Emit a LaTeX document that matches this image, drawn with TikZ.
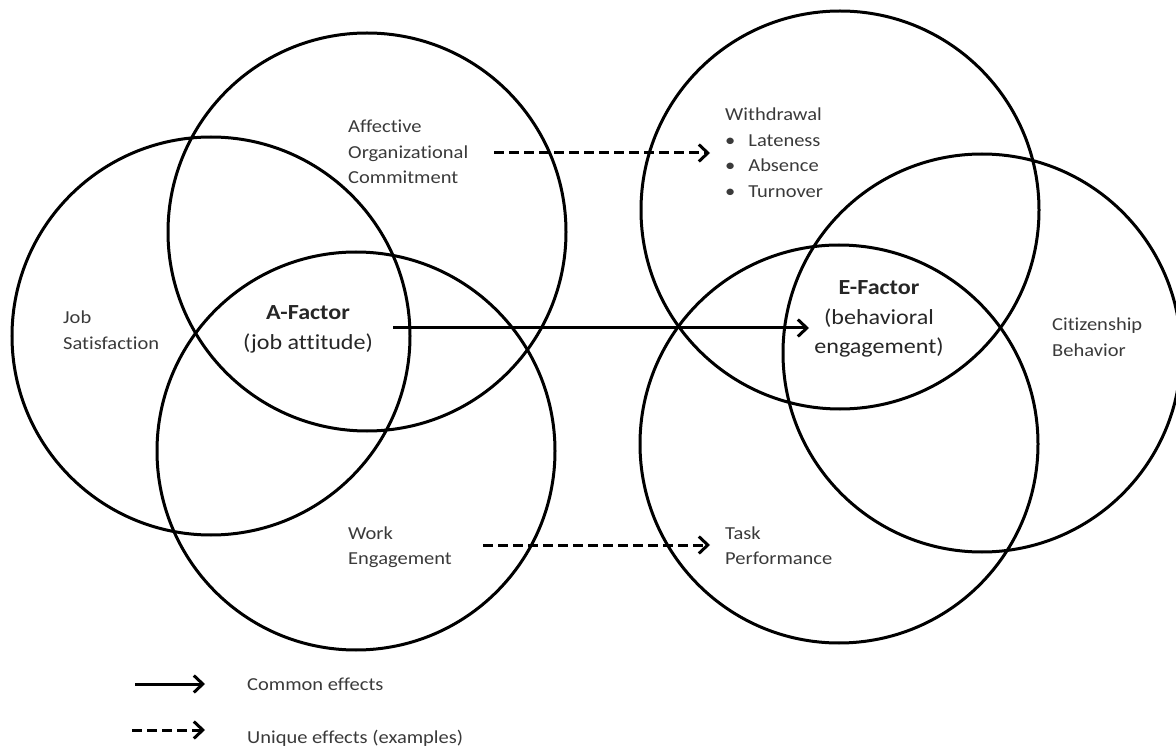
\documentclass[tikz,border=0pt]{standalone}
\usepackage{fontspec}
\usetikzlibrary{arrows.meta}
\newfontfamily\labfont[FakeStretch=1.12,Ligatures=NoCommon]{Carlito}
\definecolor{txtgray}{HTML}{3A3A3A}
\definecolor{bigtxt}{HTML}{262626}
\begin{document}
\begin{tikzpicture}[x=1pt,y=-1pt,
  ring/.style={circle, draw=black, line width=3pt, minimum size=398pt, inner sep=0pt},
  lab/.style={font=\labfont\fontsize{18.3}{25.5}\selectfont, text=txtgray, inner sep=0pt, anchor=base west},
  biglab/.style={font=\labfont\fontsize{21.5}{29.5}\selectfont, text=bigtxt, inner sep=0pt, anchor=base},
  tip/.style={-{Straight Barb[length=9pt,width=17pt,line width=3pt]}},
  common/.style={tip, line width=3pt},
  unique/.style={tip, line width=3pt, dash pattern=on 10pt off 5pt}
]
\useasboundingbox (0,0) rectangle (1176,751);
\clip (0,0) rectangle (1176,751);

% left group
\node[ring] (js) at (211,336) {};
\node[ring] (aoc) at (367,232) {};
\node[ring] (we) at (356,451) {};
% right group
\node[ring] (wd) at (840,210) {};
\node[ring] (cb) at (982,353) {};
\node[ring] (tp) at (839,444) {};

% labels
\node[lab] (jsl) at (63,324) {\begin{tabular}[t]{@{}l@{}}Job\\Satisfaction\end{tabular}};
\node[lab] (aocl) at (348,133) {\begin{tabular}[t]{@{}l@{}}Affective\\Organizational\\Commitment\end{tabular}};
\node[lab] (wel) at (348,539) {\begin{tabular}[t]{@{}l@{}}Work\\Engagement\end{tabular}};
\node[biglab] (afac) at (308,320) {\begin{tabular}[t]{@{}c@{}}\textbf{A-Factor}\\(job attitude)\end{tabular}};

\node[lab] (wdl) at (725,121) {\begin{tabular}[t]{@{}l@{\hspace{13pt}}l@{}}\multicolumn{2}{@{}l@{}}{Withdrawal}\\ \textbullet & Lateness\\ \textbullet & Absence\\ \textbullet & Turnover\end{tabular}};
\node[biglab] (efac) at (879,295) {\begin{tabular}[t]{@{}c@{}}\textbf{E-Factor}\\(behavioral\\engagement)\end{tabular}};
\node[lab] (cbl) at (1052,331) {\begin{tabular}[t]{@{}l@{}}Citizenship\\Behavior\end{tabular}};
\node[lab] (tpl) at (725,539) {\begin{tabular}[t]{@{}l@{}}Task\\Performance\end{tabular}};

% connector ends
\coordinate (aout) at (393,328);
\coordinate (ein) at (809,328);
\coordinate (aocout) at (494,153);
\coordinate (wdin) at (710,153);
\coordinate (weout) at (483,545);
\coordinate (tpin) at (710,545);

\draw[common] (aout) -- (ein);
\draw[unique] (aocout) -- (wdin);
\draw[unique] (weout) -- (tpin);

% legend
\coordinate (l1a) at (135,684);
\coordinate (l1b) at (205,684);
\coordinate (l2a) at (132,730);
\coordinate (l2b) at (205,730);
\draw[common] (l1a) -- (l1b);
\draw[unique] (l2a) -- (l2b);
\node[lab] (leg1) at (247,690) {Common effects};
\node[lab] (leg2) at (247,743) {Unique effects (examples)};
\end{tikzpicture}
\end{document}
